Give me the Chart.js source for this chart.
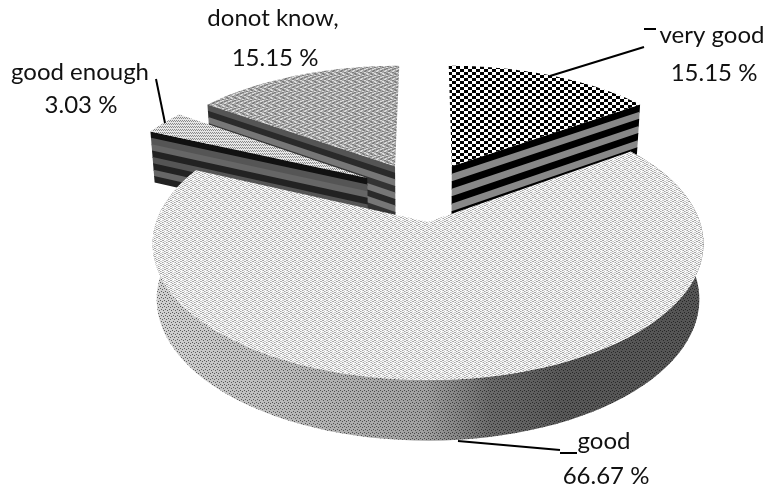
<!DOCTYPE html>
<html>
<head>
<meta charset="utf-8">
<style>
  html, body { margin: 0; padding: 0; background: #fff; }
  canvas { display: block; }
</style>
<script src="https://cdn.jsdelivr.net/npm/chart.js@4"></script>
</head>
<body>
<canvas id="piearea" width="768" height="486"></canvas>
<script>
// data
var categories = ["very good", "good", "good enough", "donot know,"];
var percents = [15.15, 66.67, 3.03, 15.15];

// look of the 3d pie
var tiltX = 1.225, tiltY = 0.598, persp = 0.16, depth = 54.6, bottomShrink = 0.985;
var explode = [[0.094, 0.45], [0, 0], [-0.236, 0.35], [-0.13, 0.45]]; // slice shift, in radius units
var drawOrder = [3, 2, 0, 1];
var wallEdge = ["end", null, "start", "start"]; // which cut of the slice faces the viewer
var wallBands = [
  ["#000", "#888", "#000", "#888", "#000", "#888", "#000"],
  null,
  ["#111", "#555", "#666", "#222", "#555", "#222", "#666", "#222"],
  ["#555", "#2a2a2a", "#777", "#333", "#777", "#2a2a2a", "#777", "#333"]
];

// text, x is the centre of the line
var labelPos = [
  { x: 712, y: 35, px: 714, py: 73 },
  { x: 604, y: 441, px: 606, py: 476 },
  { x: 80, y: 72, px: 81, py: 105 },
  { x: 273, y: 18, px: 275, py: 58 }
];
var leaders = [
  [[550, 76], [644, 47]], [[644, 29], [656, 29]],
  [[458, 441], [560, 450]], [[560, 453], [577, 453]],
  [[156, 79], [165, 123]]
];

function makeTile(rows, colors) {
  var c = document.createElement("canvas");
  c.width = rows[0].length;
  c.height = rows.length;
  var g = c.getContext("2d");
  for (var y = 0; y < rows.length; y++) {
    for (var x = 0; x < rows[y].length; x++) {
      var col = colors[rows[y][x]];
      if (col) {
        g.fillStyle = col;
        g.fillRect(x, y, 1, 1);
      }
    }
  }
  return g.createPattern(c, "repeat");
}

var checker = makeTile(["00001111", "00001111", "00001111", "11110000", "11110000", "11110000"], { 0: "#000", 1: "#fff" });
var weaveLight = makeTile([
  "aabbaacc", "bbaaccaa", "aacbaabc", "caaabcaa",
  "aaccaabb", "ccaabbaa", "aabcaacb", "bcaacaaa"
], { a: "#fafafa", b: "#a8a8a8", c: "#cccccc" });
var zigzag = makeTile([
  "ddmmllmm", "mmddmmll", "lmmddmml", "mmllmmdd",
  "mmddmmll", "ddmmllmm", "mllmmddm", "llmmddmm"
], { d: "#7d7d7d", m: "#a8a8a8", l: "#dcdcdc" });
var fineDots = makeTile(["dl", "ld", "ll"], { d: "#8a8a8a", l: "#e6e6e6" });
var rimDots = makeTile(["x...", "..x.", "....", ".x..", "...x", "...."], { x: "rgba(0,0,0,0.55)" });

function project(arc, i, u, v, z) {
  var ex = u + explode[i][0], ey = v + explode[i][1];
  var w = 1 + persp * ey;
  var s = z ? bottomShrink : 1;
  return {
    x: arc.x + arc.outerRadius * tiltX * ex / w * s,
    y: arc.y - arc.outerRadius * tiltY * ey / w + (z ? depth * Math.pow(w, -0.6) : 0)
  };
}

function rimPoints(arc, i, z) {
  var pts = [];
  var n = 90;
  for (var k = 0; k <= n; k++) {
    var t = arc.startAngle + (arc.endAngle - arc.startAngle) * k / n;
    pts.push(project(arc, i, Math.cos(t), Math.sin(-t), z));
  }
  return pts;
}

function fillPoly(ctx, pts, style) {
  ctx.beginPath();
  pts.forEach(function (p, k) {
    if (k == 0) ctx.moveTo(p.x, p.y);
    else ctx.lineTo(p.x, p.y);
  });
  ctx.closePath();
  ctx.fillStyle = style;
  ctx.fill();
}

function drawCutWall(ctx, arc, i) {
  var t = wallEdge[i] == "end" ? arc.endAngle : arc.startAngle;
  var bands = wallBands[i];
  var a = project(arc, i, 0, 0, 0), a2 = project(arc, i, 0, 0, 1);
  var b = project(arc, i, Math.cos(t), Math.sin(-t), 0), b2 = project(arc, i, Math.cos(t), Math.sin(-t), 1);
  for (var k = 0; k < bands.length; k++) {
    var f0 = k / bands.length, f1 = (k + 1) / bands.length + 0.02;
    if (f1 > 1) f1 = 1;
    fillPoly(ctx, [
      { x: a.x + (a2.x - a.x) * f0, y: a.y + (a2.y - a.y) * f0 },
      { x: b.x + (b2.x - b.x) * f0, y: b.y + (b2.y - b.y) * f0 },
      { x: b.x + (b2.x - b.x) * f1, y: b.y + (b2.y - b.y) * f1 },
      { x: a.x + (a2.x - a.x) * f1, y: a.y + (a2.y - a.y) * f1 }
    ], bands[k]);
  }
}

function drawRim(ctx, chart, arc, i) {
  var top = rimPoints(arc, i, 0), low = rimPoints(arc, i, 1);
  var pts = top.concat(low.reverse());
  var g = ctx.createLinearGradient(150, 0, 700, 0);
  g.addColorStop(0, "#d2d2d2");
  g.addColorStop(0.5, "#a0a0a0");
  g.addColorStop(0.62, "#6a6a6a");
  g.addColorStop(0.75, "#585858");
  g.addColorStop(1, "#555");
  fillPoly(ctx, pts, g);
  fillPoly(ctx, pts, rimDots);
}

var pie3d = {
  id: "pie3d",
  beforeDatasetsDraw: function (chart) {
    var ctx = chart.ctx;
    var arcs = chart.getDatasetMeta(0).data;
    drawOrder.forEach(function (i) {
      var arc = arcs[i];
      ctx.save();
      if (wallBands[i]) drawCutWall(ctx, arc, i);
      else drawRim(ctx, chart, arc, i);
      var face = rimPoints(arc, i, 0);
      face.push(project(arc, i, 0, 0, 0));
      fillPoly(ctx, face, arc.options.backgroundColor);
      ctx.restore();
    });
    return false; // the faces above replace the flat arcs
  },
  afterDraw: function (chart) {
    var ctx = chart.ctx;
    ctx.save();
    ctx.strokeStyle = "#000";
    ctx.lineWidth = 2;
    leaders.forEach(function (l) {
      ctx.beginPath();
      ctx.moveTo(l[0][0], l[0][1]);
      ctx.lineTo(l[1][0], l[1][1]);
      ctx.stroke();
    });
    ctx.fillStyle = "#111";
    ctx.font = "24px Lato";
    ctx.textAlign = "center";
    ctx.textBaseline = "middle";
    categories.forEach(function (name, i) {
      ctx.fillText(name, labelPos[i].x, labelPos[i].y);
      ctx.fillText(percents[i].toFixed(2) + " %", labelPos[i].px, labelPos[i].py);
    });
    ctx.restore();
  }
};

new Chart(document.getElementById("piearea").getContext("2d"), {
  type: "pie",
  data: {
    labels: categories,
    datasets: [{
      data: percents,
      backgroundColor: [checker, weaveLight, fineDots, zigzag],
      borderWidth: 0
    }]
  },
  options: {
    responsive: false,
    animation: false,
    layout: { padding: { left: 88, right: 0, top: 0, bottom: 42 } },
    plugins: { legend: { display: false }, tooltip: { enabled: false } }
  },
  plugins: [pie3d]
});
</script>
</body>
</html>
